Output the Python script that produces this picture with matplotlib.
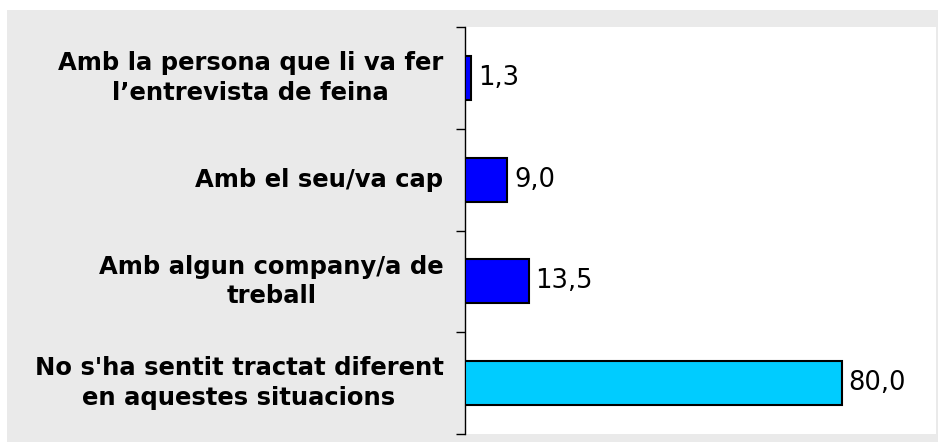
import matplotlib
matplotlib.use("Agg")
import matplotlib.pyplot as plt
from matplotlib.patches import Rectangle

plt.rcParams['font.family'] = ['DejaVu Sans']

categories = [
    "Amb la persona que li va fer\nl\u2019entrevista de feina",
    "Amb el seu/va cap",
    "Amb algun company/a de\ntreball",
    "No s'ha sentit tractat diferent\nen aquestes situacions",
]
values = [1.3, 9.0, 13.5, 80.0]
colors = ["#0000FF", "#0000FF", "#0000FF", "#00CCFF"]
value_labels = ["1,3", "9,0", "13,5", "80,0"]

W, H = 938, 443
fig = plt.figure(figsize=(W / 100, H / 100), dpi=100, facecolor="white")

# grey panel behind the chart
fig.patches.append(Rectangle((7 / W, 1 - 442 / H), (938 - 7) / W, (442 - 10) / H,
                             transform=fig.transFigure, facecolor="#EAEAEA",
                             edgecolor="none", zorder=-1))

ax = fig.add_axes([465 / W, 1 - 434 / H, (936 - 465) / W, (434 - 27) / H])
ax.set_facecolor("white")

ypos = [3, 2, 1, 0]
ax.barh(ypos, values, height=0.43, color=colors, edgecolor="black", linewidth=1.5, zorder=3)

for y, v, lab in zip(ypos, values, value_labels):
    ax.annotate(lab, xy=(v, y), xytext=(5, 0), textcoords="offset points",
                ha="left", va="center", fontsize=18.5, color="black")

ax.set_xlim(0, 100)
ax.set_ylim(-0.5, 3.5)

# boundary ticks on the axis, labels centred between them
ax.set_yticks([-0.5, 0.5, 1.5, 2.5, 3.5])
ax.set_yticklabels([])
ax.tick_params(axis="y", which="major", length=6.5, width=1, direction="out", color="black")
ax.set_yticks(ypos, minor=True)
ax.set_yticklabels(categories, minor=True, fontsize=17.5, fontweight="bold",
                   multialignment="center", linespacing=1.28, va="center")
ax.tick_params(axis="y", which="minor", length=0, pad=15.5)

ax.set_xticks([])
for side in ["top", "right", "bottom"]:
    ax.spines[side].set_visible(False)
ax.spines["left"].set_linewidth(1)
ax.spines["left"].set_color("black")

fig.savefig("out.png", dpi=100, facecolor=fig.get_facecolor())
